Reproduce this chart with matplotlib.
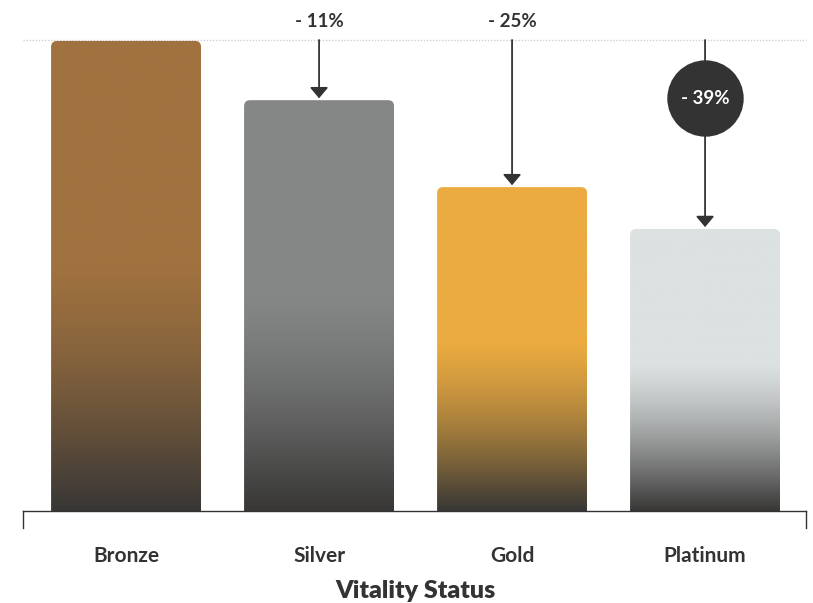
import numpy as np
import matplotlib.pyplot as plt
from matplotlib.patches import FancyBboxPatch
from matplotlib.colors import to_rgb

plt.rcParams['font.family'] = ['Lato', 'DejaVu Sans']

statuses = ["Bronze", "Silver", "Gold", "Platinum"]
values = [100.0, 87.4, 68.9, 60.0]
bar_colors = ["#a0723f", "#858787", "#ebab40", "#dce1e1"]
change_labels = [None, "- 11%", "- 25%", "- 39%"]

DARK = "#383736"
TEXT = "#333333"
YTOP = 100.2

fig = plt.figure(figsize=(8.13, 6.03), dpi=100)
ax = fig.add_axes([23 / 813, 92 / 603, 783 / 813, 471 / 603])
ax.set_xlim(-0.534, 3.523)
ax.set_ylim(0, YTOP)

x = np.arange(len(statuses))
width = 0.777

# pixel -> data conversion for rounded corners
px_x = (3.523 + 0.534) / 783
px_y = YTOP / 471
radius_px = 6


def grad_image(color, top, frac=0.52, n=400):
    # colour fades to dark over the lower part of each bar
    c = np.array(to_rgb(color))
    d = np.array(to_rgb(DARK))
    y = np.linspace(0, top, n)
    t = np.clip(y / (frac * top), 0, 1)
    t = 0.5 * t + 0.5 * np.sin(t * np.pi / 2)
    rgb = d[None, :] * (1 - t[:, None]) + c[None, :] * t[:, None]
    return rgb[:, None, :]


bars = ax.bar(x, values, width=width, color="none", edgecolor="none")
for b, col in zip(bars, bar_colors):
    x0 = b.get_x()
    h = b.get_height()
    r = radius_px * px_x
    patch = FancyBboxPatch((x0 + r, -10), width - 2 * r, h + 10 - radius_px * px_y,
                           boxstyle=f"round,pad={r},rounding_size={r}",
                           mutation_aspect=px_y / px_x,
                           facecolor="none", edgecolor="none")
    ax.add_patch(patch)
    im = ax.imshow(grad_image(col, h), extent=[x0, x0 + width, 0, h],
                   origin="lower", aspect="auto", zorder=2)
    im.set_clip_path(patch)

ax.set_xlim(-0.534, 3.523)
ax.set_ylim(0, YTOP)

# dotted reference line on top
ax.axhline(YTOP, color="#d0d0d0", lw=1, ls=(0, (1, 1.2)), clip_on=False, zorder=1)

# arrows and change labels
for xi, v, lab in zip(x, values, change_labels):
    if lab is None:
        continue
    ax.annotate("", xy=(xi, v + 0.4), xytext=(xi, YTOP),
                arrowprops=dict(arrowstyle="-|>,head_length=0.65,head_width=0.55",
                                mutation_scale=10, color=TEXT, lw=1.3,
                                shrinkA=0, shrinkB=0),
                zorder=4, annotation_clip=False)
    if xi < 3:
        ax.text(xi, YTOP + 3.9, lab, ha="center", va="center", fontsize=13.5,
                fontweight="bold", color=TEXT, clip_on=False)
    else:
        cy = YTOP - 58 * px_y
        ax.plot([xi], [cy], marker="o", markersize=55, color=TEXT,
                markeredgewidth=0, zorder=5, clip_on=False)
        ax.text(xi, cy, lab, ha="center", va="center", fontsize=13.5,
                fontweight="bold", color="white", zorder=6)

# axis styling
for s in ["top", "right", "left"]:
    ax.spines[s].set_visible(False)
ax.spines["bottom"].set_color(TEXT)
ax.spines["bottom"].set_linewidth(1)
ax.spines["bottom"].set_zorder(3)
for xe in (0, 1):
    ax.plot([xe, xe], [0, -17 / 471], transform=ax.transAxes, color=TEXT,
            lw=1, clip_on=False)

ax.set_yticks([])
ax.set_xticks(x)
ax.set_xticklabels(statuses, fontsize=15, fontweight="bold", color=TEXT)
ax.tick_params(axis="x", length=0, pad=25)
fig.text(415 / 813, 12 / 603, "Vitality Status", ha="center", va="center",
         fontsize=18, fontweight="heavy", color=TEXT)

fig.savefig("out.png", dpi=100)
